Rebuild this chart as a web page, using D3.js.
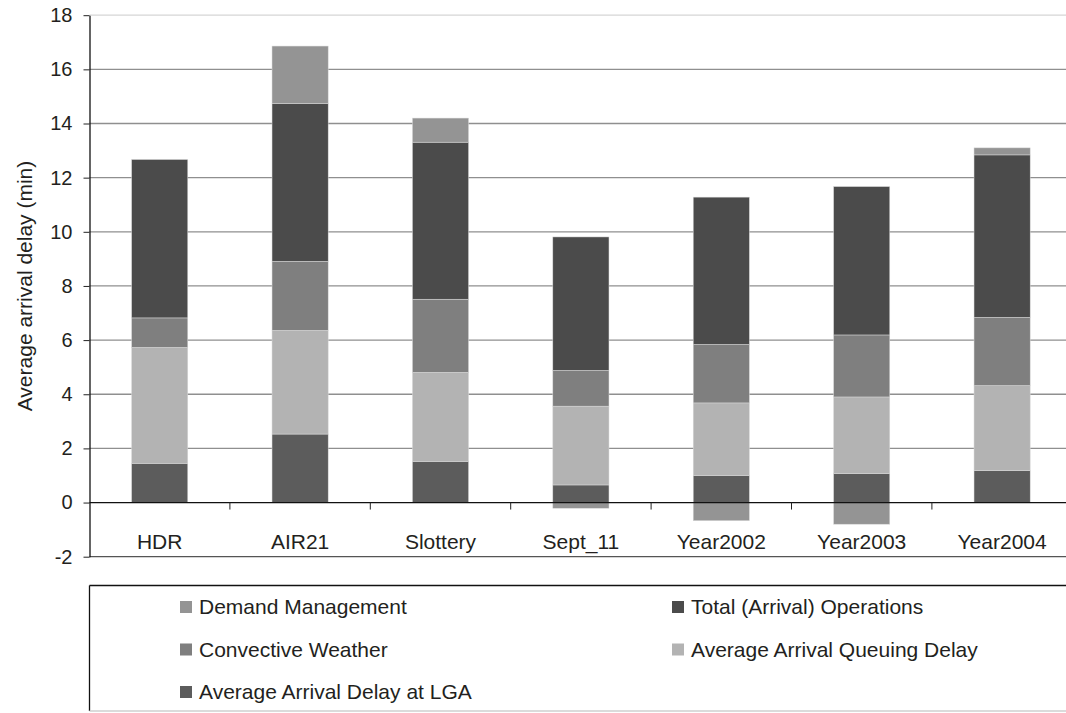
<!DOCTYPE html>
<html>
<head>
<meta charset="utf-8">
<script src="https://cdn.jsdelivr.net/npm/d3@7"></script>
<style>
    body { margin: 0; background: #fff; }
    text { font-family: "Liberation Sans", Arial, sans-serif; fill: #231f20; }
</style>
</head>
<body>
<div id="delayChart"></div>
<script>
// values (minutes)
let categories = ["HDR", "AIR21", "Slottery", "Sept_11", "Year2002", "Year2003", "Year2004"]
let lgaDelay = [1.45, 2.53, 1.52, 0.65, 1.00, 1.07, 1.18]
let queuingDelay = [4.28, 3.83, 3.29, 2.91, 2.68, 2.83, 3.14]
let convectiveWeather = [1.09, 2.55, 2.70, 1.32, 2.16, 2.29, 2.52]
let totalOperations = [5.85, 5.83, 5.80, 4.93, 5.44, 5.48, 6.00]
let demandManagement = [0, 2.12, 0.89, -0.21, -0.67, -0.80, 0.26]

let seriesNames = ["Average Arrival Delay at LGA", "Average Arrival Queuing Delay",
    "Convective Weather", "Total (Arrival) Operations", "Demand Management"]
let seriesColors = ["#5c5c5c", "#b3b3b3", "#7f7f7f", "#4b4b4b", "#949494"]
let legendOrder = ["Demand Management", "Total (Arrival) Operations", "Convective Weather",
    "Average Arrival Queuing Delay", "Average Arrival Delay at LGA"]
let yTicks = [-2, 0, 2, 4, 6, 8, 10, 12, 14, 16, 18]


class StackedBarVis {
    constructor(parentElement) {
        this.parentElement = parentElement
        this.initData()
        this.initVis()
    }

    initData() {
        let vis = this
        let columns = [lgaDelay, queuingDelay, convectiveWeather, totalOperations, demandManagement]

        vis.rows = categories.map(function (c, i) {
            let row = {category: c}
            seriesNames.forEach(function (s, j) {
                row[s] = columns[j][i]
            })
            return row
        })

        vis.stacked = d3.stack()
            .keys(seriesNames)
            .offset(d3.stackOffsetDiverging)(vis.rows)
    }

    initVis() {
        let vis = this

        vis.width = 1066
        vis.height = 713
        vis.left = 89.5

        vis.svg = d3.select("#" + vis.parentElement).append("svg")
            .attr("width", vis.width)
            .attr("height", vis.height)

        // scales
        vis.x = d3.scaleBand()
            .domain(categories)
            .range([vis.left, 1072.3])
            .paddingInner(0.6)
            .paddingOuter(0.3)
        vis.y = d3.scaleLinear()
            .domain([-2, 18])
            .range([556.7, 15.2])
        vis.color = d3.scaleOrdinal().domain(seriesNames).range(seriesColors)

        // gridlines
        vis.svg.append("g")
            .attr("class", "grid")
            .selectAll("line")
            .data(yTicks.filter(d => d !== 0))
            .enter().append("line")
            .attr("x1", vis.left)
            .attr("x2", vis.width)
            .attr("y1", d => vis.y(d))
            .attr("y2", d => vis.y(d))
            .attr("stroke", d => d === 18 ? "#d6d6d6" : (d === -2 ? "#555" : "#8f8f8f"))
            .attr("stroke-width", 1.3)

        vis.updateVis()
    }

    updateVis() {
        let vis = this

        // bars
        vis.svg.append("g")
            .selectAll("g")
            .data(vis.stacked)
            .enter().append("g")
            .attr("fill", d => vis.color(d.key))
            .selectAll("rect")
            .data(d => d)
            .enter().append("rect")
            .attr("x", d => vis.x(d.data.category))
            .attr("width", vis.x.bandwidth())
            .attr("y", d => vis.y(Math.max(d[0], d[1])))
            .attr("height", d => Math.abs(vis.y(d[0]) - vis.y(d[1])))
            .attr("stroke", "#d9d9d9")
            .attr("stroke-width", 0.5)

        // y axis (plain hyphen for negatives, as in the original)
        let yAxis = vis.svg.append("g")
            .attr("class", "axis axis--y")
            .attr("transform", `translate(${vis.left}, 0)`)
            .call(d3.axisLeft(vis.y).tickValues(yTicks).tickFormat(d => String(d))
                .tickSize(6).tickSizeOuter(0).tickPadding(11))
        yAxis.selectAll("text").style("font-size", "20px").attr("fill", "#231f20")
        yAxis.selectAll("line").attr("stroke", "#222")
        yAxis.select(".domain").attr("stroke", "#111").attr("stroke-width", 1.3)

        // x axis: zero line, boundary ticks and labels
        let xAxis = vis.svg.append("g")
            .attr("class", "axis axis--x")
            .attr("transform", `translate(0, ${vis.y(0)})`)
            .call(d3.axisBottom(vis.x).tickSize(0).tickPadding(31.5))
        xAxis.select(".domain").remove()
        xAxis.selectAll("text").style("font-size", "21px").attr("fill", "#231f20")
        xAxis.append("line")
            .attr("x1", vis.left).attr("x2", vis.width)
            .attr("stroke", "#111").attr("stroke-width", 1.3)
        xAxis.selectAll(".sep")
            .data(categories.slice(1))
            .enter().append("line")
            .attr("class", "sep")
            .attr("x1", d => vis.x(d) - vis.x.step() * vis.x.paddingInner() / 2)
            .attr("x2", d => vis.x(d) - vis.x.step() * vis.x.paddingInner() / 2)
            .attr("y1", 0).attr("y2", 7)
            .attr("stroke", "#222")

        // y title
        vis.svg.append("text")
            .attr("transform", "translate(32, 286) rotate(-90)")
            .attr("text-anchor", "middle")
            .style("font-size", "21px")
            .text("Average arrival delay (min)")

        // legend box
        let legend = vis.svg.append("g").attr("class", "legend")
        legend.append("line")
            .attr("x1", vis.left).attr("x2", vis.width)
            .attr("y1", 585.5).attr("y2", 585.5)
            .attr("stroke", "#111").attr("stroke-width", 1.3)
        legend.append("line")
            .attr("x1", vis.left).attr("x2", vis.left)
            .attr("y1", 585.5).attr("y2", 711)
            .attr("stroke", "#111").attr("stroke-width", 1.3)
        legend.append("line")
            .attr("x1", vis.left).attr("x2", vis.width)
            .attr("y1", 711).attr("y2", 711)
            .attr("stroke", "#cfcfcf").attr("stroke-width", 1.3)

        let items = legend.selectAll(".item")
            .data(legendOrder)
            .enter().append("g")
            .attr("class", "item")
            .attr("transform", (d, i) => `translate(${i % 2 === 0 ? 180 : 672}, ${607 + Math.floor(i / 2) * 42.5})`)
        items.append("rect")
            .attr("x", 0).attr("y", -6)
            .attr("width", 12).attr("height", 12)
            .attr("fill", d => vis.color(d))
        items.append("text")
            .attr("x", 19)
            .attr("dy", "0.35em")
            .style("font-size", "21px")
            .text(d => d)
    }
}

let barChart = new StackedBarVis("delayChart")
</script>
</body>
</html>
